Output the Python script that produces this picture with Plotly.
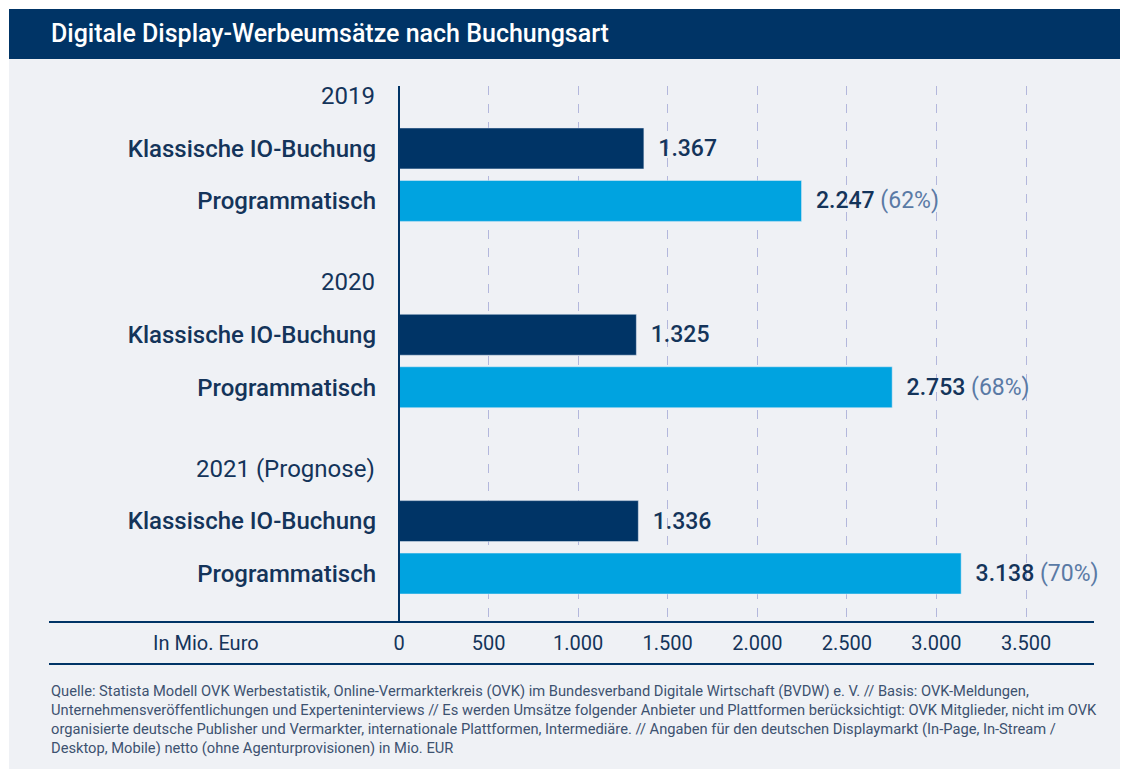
import plotly.graph_objects as go

years = ["2019", "2020", "2021 (Prognose)"]
klassisch = [1367, 1325, 1336]
programmatisch = [2247, 2753, 3138]
anteil = ["62%", "68%", "70%"]
x_ticks = [0, 500, 1000, 1500, 2000, 2500, 3000, 3500]
x_tick_labels = ["0", "500", "1.000", "1.500", "2.000", "2.500", "3.000", "3.500"]

DARK = "#003466"
LIGHT = "#00a3e0"
TEXT = "#14345a"
OFF = 7  # page body margin
W, H = 1113, 762
L, R, T, B = 398 - OFF, 1093 - OFF, 85 - OFF, 620 - OFF


def px(x):
    return (x - OFF - L) / (R - L)


def py(y):
    return (B - (y - OFF)) / (B - T)


def fmt(v):
    return f"{v:,}".replace(",", ".")


step = 3.55
y_year = [i * step for i in range(3)]
y_k = [y + 1 for y in y_year]
y_p = [y + 2 for y in y_year]

fig = go.Figure()
fig.add_bar(
    x=klassisch, y=y_k, orientation="h", marker_color=DARK, width=0.78,
    text=[f"  {fmt(v)}" for v in klassisch], textposition="outside",
    textfont=dict(size=23, color=TEXT, weight=500), cliponaxis=False,
)
fig.add_bar(
    x=programmatisch, y=y_p, orientation="h", marker_color=LIGHT, width=0.78,
    text=[f"  {fmt(v)} <span style='color:#5a7aa5;font-weight:400'>({a})</span>"
          for v, a in zip(programmatisch, anteil)],
    textposition="outside", textfont=dict(size=23, color=TEXT, weight=500),
    cliponaxis=False,
)

shapes = [
    dict(type="rect", xref="paper", yref="paper", x0=px(8), x1=px(1120),
         y0=py(768), y1=py(58), fillcolor="#eff1f5", line_width=0, layer="below"),
    dict(type="rect", xref="paper", yref="paper", x0=px(8), x1=px(1120),
         y0=py(58), y1=py(8), fillcolor=DARK, line_width=0, layer="below"),
    dict(type="line", xref="paper", yref="paper", x0=0, x1=0,
         y0=0, y1=1, line=dict(color=DARK, width=2)),
    dict(type="line", xref="paper", yref="paper", x0=px(48), x1=1,
         y0=py(621), y1=py(621), line=dict(color=DARK, width=2)),
    dict(type="line", xref="paper", yref="paper", x0=px(48), x1=1,
         y0=py(663), y1=py(663), line=dict(color=DARK, width=2)),
]

annotations = [
    dict(text="Digitale Display-Werbeumsätze nach Buchungsart",
         xref="paper", yref="paper", x=px(48), y=py(33), xanchor="left",
         yanchor="middle", showarrow=False,
         font=dict(size=25, color="white", weight=500)),
    dict(text="In Mio. Euro", xref="paper", yref="paper", x=px(205), y=py(642),
         xanchor="center", yanchor="middle", showarrow=False,
         font=dict(size=20, color=TEXT)),
    dict(text="Quelle: Statista Modell OVK Werbestatistik, Online-Vermarkterkreis (OVK) im Bundesverband Digitale Wirtschaft (BVDW) e. V. // Basis: OVK-Meldungen,<br>"
         "Unternehmensveröffentlichungen und Experteninterviews // Es werden Umsätze folgender Anbieter und Plattformen berücksichtigt: OVK Mitglieder, nicht im OVK<br>"
         "organisierte deutsche Publisher und Vermarkter, internationale Plattformen, Intermediäre. // Angaben für den deutschen Displaymarkt (In-Page, In-Stream /<br>"
         "Desktop, Mobile) netto (ohne Agenturprovisionen) in Mio. EUR",
         xref="paper", yref="paper", x=px(48), y=py(679), xanchor="left",
         yanchor="top", align="left", showarrow=False,
         font=dict(size=14.7, color="#3d5270")),
]
for y, label in zip(y_year, years):
    annotations.append(dict(text=label, xref="paper", yref="y", x=px(376), y=y,
                            xanchor="right", yanchor="middle", showarrow=False,
                            font=dict(size=24, color=TEXT)))

fig.update_layout(
    width=W, height=H, showlegend=False, barmode="overlay",
    paper_bgcolor="white", plot_bgcolor="rgba(0,0,0,0)",
    margin=dict(l=L, r=W - R, t=T, b=H - B),
    font=dict(family="Roboto", color=TEXT),
    shapes=shapes, annotations=annotations,
    xaxis=dict(range=[0, (R - L) / ((1025 - 398) / 3500)], tickvals=x_ticks,
               ticktext=x_tick_labels, showgrid=True, gridcolor="#b3b7dc",
               griddash="dash", gridwidth=1, zeroline=False, ticks="",
               tickfont=dict(size=20, color=TEXT), ticklabelstandoff=8),
    yaxis=dict(range=[(B - T - 10) / 51.5 - 0.19, -0.19], tickvals=y_k + y_p,
               ticktext=["Klassische IO-Buchung"] * 3 + ["Programmatisch"] * 3,
               tickfont=dict(size=24, color=TEXT, weight=500), showgrid=False,
               zeroline=False, ticks="", ticklabelstandoff=22),
)

fig.write_html("out.html")
